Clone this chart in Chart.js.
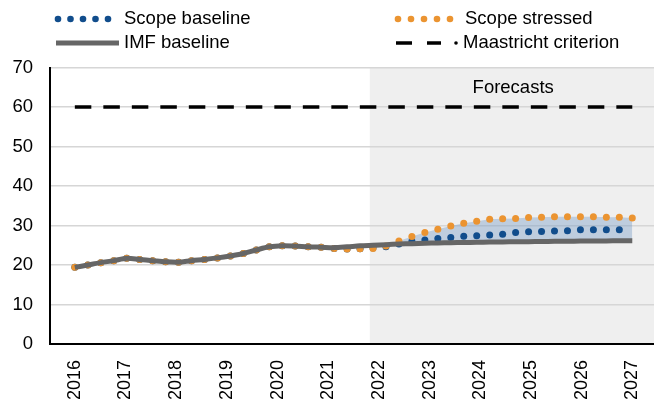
<!DOCTYPE html>
<html>
<head>
<meta charset="utf-8">
<script src="https://cdn.jsdelivr.net/npm/chart.js@4.4.1/dist/chart.umd.min.js"></script>
<style>
  html, body { margin: 0; padding: 0; background: #fff; overflow: hidden; }
  canvas { display: block; }
</style>
</head>
<body>
<canvas id="chart" width="690" height="403" style="width:690px;height:403px"></canvas>
<script>
// year tick labels (x axis)
const years = [2016, 2017, 2018, 2019, 2020, 2021, 2022, 2023, 2024, 2025, 2026, 2027];

// quarterly observations, 2016 -> 2027
const imfBaseline = [
  19.4, 20.0, 20.6, 21.1, 21.7, 21.4, 21.1, 20.8, 20.7, 21.1, 21.4, 21.8,
  22.3, 22.9, 23.8, 24.6, 24.9, 24.8, 24.6, 24.5, 24.4, 24.6, 24.85, 25.0,
  25.15, 25.3, 25.4, 25.5, 25.6, 25.65, 25.7, 25.75, 25.8, 25.85, 25.9, 25.9,
  25.95, 26.0, 26.0, 26.05, 26.1, 26.1, 26.15, 26.15
];
const scopeStressed = [
  19.4, 20.0, 20.6, 21.1, 21.7, 21.4, 21.1, 20.8, 20.7, 21.1, 21.4, 21.8,
  22.3, 22.9, 23.8, 24.6, 24.9, 24.8, 24.6, 24.5, 24.2, 24.05, 24.1, 24.2,
  24.8, 26.1, 27.2, 28.2, 29.05, 29.85, 30.55, 31.1, 31.6, 31.7, 31.8, 32.0,
  32.1, 32.2, 32.2, 32.2, 32.2, 32.1, 32.1, 31.9
];
const scopeBaseline = [
  19.4, 20.0, 20.6, 21.1, 21.7, 21.4, 21.1, 20.8, 20.7, 21.1, 21.4, 21.8,
  22.3, 22.9, 23.8, 24.6, 24.9, 24.8, 24.6, 24.5, 24.2, 24.05, 24.1, 24.3,
  24.6, 25.3, 26.0, 26.35, 26.7, 26.95, 27.25, 27.4, 27.6, 27.8, 28.2, 28.4,
  28.5, 28.6, 28.7, 28.9, 28.9, 28.9, 28.9
];
const maastrichtLimit = 60;
const forecastFrom = 2021.82;  // shaded region starts here
const bandFrom = 23;           // first quarter of the shaded scenario band

const BLUE = "#114d8c";
const ORANGE = "#eb9431";
const GREY = "#666666";
const FONT = '"Liberation Sans", Arial, sans-serif';

const n = imfBaseline.length;
const xAt = (i) => years[0] + (i * (years[years.length - 1] - years[0])) / (n - 1);
const toPoints = (arr) => arr.map((v, i) => ({ x: xAt(i), y: v }));

const forecastShade = {
  id: "forecastShade",
  beforeDraw(chart) {
    const { ctx, chartArea, scales } = chart;
    const x0 = scales.x.getPixelForValue(forecastFrom);
    ctx.save();
    ctx.fillStyle = "#efefef";
    ctx.fillRect(x0, chartArea.top, chartArea.right - x0, chartArea.bottom - chartArea.top);
    ctx.restore();
  },
};

const legendAndNotes = {
  id: "legendAndNotes",
  afterDraw(chart) {
    const { ctx, scales } = chart;
    ctx.save();
    ctx.font = "18.5px " + FONT;
    ctx.textBaseline = "middle";
    ctx.fillStyle = "#000";

    // forecasts label
    ctx.textAlign = "center";
    ctx.fillText("Forecasts", scales.x.getPixelForValue(2024.65), scales.y.getPixelForValue(64.8));

    ctx.textAlign = "left";
    // scope baseline
    ctx.fillStyle = BLUE;
    for (let k = 0; k < 5; k++) {
      ctx.beginPath();
      ctx.arc(58 + k * 12.5, 19, 3.3, 0, Math.PI * 2);
      ctx.fill();
    }
    // scope stressed
    ctx.fillStyle = ORANGE;
    for (let k = 0; k < 5; k++) {
      ctx.beginPath();
      ctx.arc(398 + k * 13, 19, 3.3, 0, Math.PI * 2);
      ctx.fill();
    }
    // imf baseline
    ctx.strokeStyle = GREY;
    ctx.lineWidth = 5;
    ctx.beginPath();
    ctx.moveTo(56, 43);
    ctx.lineTo(119, 43);
    ctx.stroke();
    // maastricht
    ctx.strokeStyle = "#000";
    ctx.lineWidth = 3.5;
    ctx.beginPath();
    ctx.moveTo(396, 43); ctx.lineTo(412, 43);
    ctx.moveTo(427, 43); ctx.lineTo(441, 43);
    ctx.stroke();
    ctx.fillStyle = "#000";
    ctx.beginPath();
    ctx.arc(456, 43, 1.8, 0, Math.PI * 2);
    ctx.fill();

    ctx.fillText("Scope baseline", 124, 19);
    ctx.fillText("IMF baseline", 124, 43);
    ctx.fillText("Scope stressed", 465, 19);
    ctx.fillText("Maastricht criterion", 463, 43);
    ctx.restore();
  },
};

new Chart(document.getElementById("chart"), {
  type: "line",
  data: {
    datasets: [
      {
        label: "IMF baseline",
        data: toPoints(imfBaseline),
        borderColor: GREY,
        borderWidth: 5,
        pointRadius: 0,
        fill: false,
        tension: 0.3,
      },
      {
        label: "Maastricht criterion",
        data: [
          { x: xAt(0), y: maastrichtLimit },
          { x: xAt(n - 1), y: maastrichtLimit },
        ],
        borderColor: "#000",
        borderWidth: 3.5,
        borderDash: [16.5, 12],
        borderCapStyle: "butt",
        pointRadius: 0,
        fill: false,
      },
      {
        label: "Scope stressed",
        data: toPoints(scopeStressed),
        showLine: false,
        pointRadius: 3.5,
        pointBorderWidth: 0,
        pointBackgroundColor: ORANGE,
        fill: false,
      },
      {
        label: "Scope baseline",
        data: toPoints(scopeBaseline),
        showLine: false,
        pointRadius: 3.5,
        pointBorderWidth: 0,
        pointBackgroundColor: BLUE,
        fill: false,
      },
      {
        label: "band",
        data: scopeStressed.map((v, i) => ({ x: xAt(i), y: i >= bandFrom ? v : null })),
        borderWidth: 0,
        pointRadius: 0,
        backgroundColor: "rgba(110,150,195,0.38)",
        fill: 0,
      },
    ],
  },
  options: {
    responsive: false,
    devicePixelRatio: 1,
    animation: false,
    layout: { padding: { top: 67.5, left: 0, right: 0, bottom: 0 } },
    plugins: {
      legend: { display: false },
      tooltip: { enabled: false },
    },
    scales: {
      x: {
        type: "linear",
        min: 2015.51,
        max: 2028.06,
        grid: { display: false },
        border: { color: "#000", width: 2 },
        afterBuildTicks: (s) => {
          s.ticks = years.map((v) => ({ value: v }));
        },
        afterFit: (s) => {
          s.height = 59;
        },
        ticks: {
          minRotation: 90,
          maxRotation: 90,
          padding: 8,
          color: "#000",
          font: { family: FONT, size: 18 },
          callback: (v) => String(v),
        },
      },
      y: {
        min: 0,
        max: 70,
        grid: {
          color: "#d6d6d6",
          lineWidth: 1.5,
          drawTicks: false,
        },
        border: { color: "#000", width: 2 },
        afterFit: (s) => {
          s.width = 50;
        },
        ticks: {
          stepSize: 10,
          padding: 17,
          color: "#000",
          font: { family: FONT, size: 18.5 },
        },
      },
    },
  },
  plugins: [forecastShade, legendAndNotes],
});
</script>
</body>
</html>
